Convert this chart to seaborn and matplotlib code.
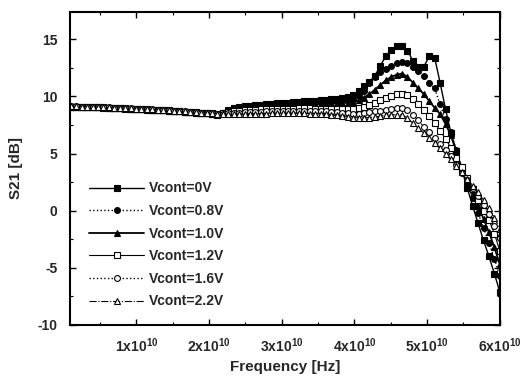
import numpy as np
import pandas as pd
import matplotlib
matplotlib.use("Agg")
import matplotlib.pyplot as plt
from matplotlib.ticker import MultipleLocator, FuncFormatter
import seaborn as sns

# Frequency samples (GHz)
freq_ghz = np.linspace(1.0, 60.0, 80)

s21_v0 = [9.10, 9.10, 9.08, 9.07, 9.05, 9.04, 9.02, 9.00, 8.98, 8.96,
          8.94, 8.92, 8.90, 8.88, 8.85, 8.83, 8.80, 8.78, 8.75, 8.72,
          8.68, 8.65, 8.62, 8.58, 8.55, 8.52, 8.48, 8.40, 8.55, 8.80,
          8.95, 9.05, 9.12, 9.18, 9.23, 9.28, 9.32, 9.36, 9.40, 9.43,
          9.46, 9.50, 9.53, 9.56, 9.60, 9.63, 9.66, 9.70, 9.73, 9.77,
          9.85, 9.95, 10.1, 10.5, 10.9, 11.3, 11.8, 12.7, 13.5, 14.1,
          14.4, 14.4, 14.0, 13.1, 12.6, 12.6, 13.5, 13.4, 11.2, 8.9,
          6.8, 5.2, 3.6, 2.0, 0.4, -1.1, -2.6, -4.0, -5.5, -7.1]

s21_v08 = [9.10, 9.10, 9.08, 9.07, 9.05, 9.04, 9.02, 9.00, 8.98, 8.96,
           8.94, 8.92, 8.90, 8.88, 8.85, 8.83, 8.80, 8.78, 8.75, 8.72,
           8.68, 8.65, 8.62, 8.58, 8.55, 8.52, 8.49, 8.45, 8.55, 8.75,
           8.92, 9.00, 9.06, 9.11, 9.16, 9.20, 9.24, 9.27, 9.30, 9.33,
           9.36, 9.39, 9.42, 9.45, 9.48, 9.51, 9.54, 9.57, 9.60, 9.63,
           9.67, 9.72, 9.80, 10.0, 10.5, 11.2, 11.7, 12.1, 12.4, 12.7,
           12.95, 13.0, 12.9, 12.6, 12.2, 11.8, 11.2, 10.7, 9.3, 8.0,
           6.9, 5.3, 3.8, 2.4, 1.1, -0.2, -1.5, -2.8, -4.2, -5.7]

s21_v10 = [9.11, 9.11, 9.09, 9.08, 9.06, 9.05, 9.03, 9.01, 8.99, 8.97,
           8.95, 8.93, 8.91, 8.89, 8.86, 8.84, 8.81, 8.79, 8.76, 8.73,
           8.69, 8.66, 8.63, 8.59, 8.56, 8.53, 8.50, 8.46, 8.52, 8.68,
           8.85, 8.92, 8.98, 9.03, 9.07, 9.10, 9.13, 9.16, 9.18, 9.20,
           9.22, 9.24, 9.26, 9.28, 9.30, 9.32, 9.34, 9.36, 9.38, 9.40,
           9.42, 9.45, 9.50, 9.65, 9.90, 10.2, 10.6, 11.0, 11.4, 11.7,
           11.9, 12.0, 11.7, 11.2, 10.7, 10.2, 9.6, 9.0, 8.45, 7.6,
           6.6, 5.1, 3.75, 2.6, 1.5, 0.4, -0.7, -1.9, -3.2, -4.7]

s21_v12 = [9.11, 9.11, 9.10, 9.09, 9.07, 9.06, 9.04, 9.02, 9.00, 8.98,
           8.96, 8.94, 8.92, 8.90, 8.87, 8.85, 8.82, 8.80, 8.77, 8.74,
           8.70, 8.67, 8.64, 8.60, 8.57, 8.54, 8.51, 8.48, 8.52, 8.62,
           8.70, 8.74, 8.78, 8.81, 8.84, 8.86, 8.88, 8.90, 8.91, 8.92,
           8.93, 8.94, 8.95, 8.95, 8.95, 8.94, 8.93, 8.91, 8.89, 8.87,
           8.86, 8.86, 8.88, 8.95, 9.10, 9.28, 9.45, 9.65, 9.85, 10.05,
           10.2, 10.2, 10.1, 9.8, 9.3, 8.8, 8.3, 7.7, 7.0, 6.3,
           5.5, 4.6, 3.8, 2.9, 1.9, 0.95, 0.0, -0.8, -2.0, -3.5]

s21_v16 = [9.12, 9.12, 9.11, 9.10, 9.08, 9.07, 9.05, 9.03, 9.01, 8.99,
           8.97, 8.95, 8.93, 8.91, 8.88, 8.86, 8.83, 8.80, 8.77, 8.74,
           8.71, 8.68, 8.65, 8.62, 8.58, 8.55, 8.52, 8.49, 8.50, 8.53,
           8.55, 8.58, 8.61, 8.63, 8.65, 8.67, 8.68, 8.70, 8.71, 8.72,
           8.73, 8.74, 8.75, 8.75, 8.75, 8.74, 8.72, 8.70, 8.67, 8.63,
           8.58, 8.53, 8.50, 8.50, 8.53, 8.60, 8.68, 8.76, 8.84, 8.92,
           8.97, 8.97, 8.80, 8.40, 7.90, 7.35, 6.85, 6.35, 5.85, 5.35,
           4.8, 4.0, 3.3, 2.7, 2.0, 1.3, 0.5, -0.3, -1.3, -2.4]

s21_v22 = [9.12, 9.12, 9.11, 9.10, 9.08, 9.07, 9.05, 9.03, 9.01, 8.99,
           8.97, 8.95, 8.93, 8.91, 8.88, 8.86, 8.83, 8.80, 8.77, 8.74,
           8.71, 8.68, 8.65, 8.62, 8.58, 8.55, 8.52, 8.48, 8.45, 8.45,
           8.45, 8.46, 8.47, 8.48, 8.49, 8.50, 8.50, 8.51, 8.51, 8.52,
           8.52, 8.52, 8.52, 8.51, 8.50, 8.48, 8.45, 8.42, 8.38, 8.33,
           8.27, 8.20, 8.15, 8.12, 8.12, 8.15, 8.20, 8.27, 8.33, 8.38,
           8.40, 8.38, 8.10, 7.65, 7.20, 6.80, 6.35, 5.90, 5.45, 5.00,
           4.5, 3.9, 3.35, 2.8, 2.2, 1.6, 0.95, 0.25, -0.6, -1.6]

labels = ["Vcont=0V", "Vcont=0.8V", "Vcont=1.0V", "Vcont=1.2V", "Vcont=1.6V", "Vcont=2.2V"]
series = [s21_v0, s21_v08, s21_v10, s21_v12, s21_v16, s21_v22]
x_tick_vals = [1, 2, 3, 4, 5, 6]

styles = [
    dict(marker="s", mfc="black", ls="-", lw=1.0),
    dict(marker="o", mfc="black", ls=":", lw=1.0),
    dict(marker="^", mfc="black", ls="-", lw=1.3),
    dict(marker="s", mfc="white", ls="-", lw=0.8),
    dict(marker="o", mfc="white", ls=":", lw=1.0),
    dict(marker="^", mfc="white", ls="-.", lw=0.8),
]

sns.set_theme(style="ticks")
plt.rcParams["font.family"] = ["Liberation Sans", "DejaVu Sans"]
plt.rcParams["font.weight"] = "bold"
plt.rcParams["mathtext.default"] = "regular"

fig = plt.figure(figsize=(5.25, 3.81), dpi=100)
ax = fig.add_axes([0.133, 0.147, 0.819, 0.822])

freq_hz = freq_ghz * 1e9
for lab, vals, st in zip(labels, series, styles):
    sns.lineplot(x=freq_hz, y=vals, ax=ax, color="black", label=lab,
                 marker=st["marker"], markerfacecolor=st["mfc"],
                 markeredgecolor="black", markeredgewidth=0.8,
                 markersize=4.2, linestyle=st["ls"], linewidth=st["lw"],
                 estimator=None, sort=False)

ax.set_xlim(0.86e9, 6.0e10)
ax.set_ylim(-10, 17.4)
ax.set_xticks([v * 1e10 for v in x_tick_vals])
ax.xaxis.set_minor_locator(MultipleLocator(0.5e10))
ax.yaxis.set_major_locator(MultipleLocator(5))
ax.yaxis.set_minor_locator(MultipleLocator(2.5))
ax.xaxis.set_major_formatter(FuncFormatter(lambda v, p: f"{int(round(v / 1e10))}x10$^{{10}}$"))
ax.yaxis.set_major_formatter(FuncFormatter(lambda v, p: f"{int(v)}"))

ax.tick_params(which="both", direction="in", top=True, right=True, color="black")
ax.tick_params(which="major", length=4, width=1.0, labelsize=10)
ax.tick_params(axis="x", which="major", pad=8)
ax.tick_params(axis="y", which="major", pad=9)
ax.tick_params(which="minor", length=2.5, width=0.8)
for lbl in ax.get_xticklabels() + ax.get_yticklabels():
    lbl.set_fontweight("bold")
for sp in ax.spines.values():
    sp.set_linewidth(1.5)
    sp.set_color("black")

ax.set_xlabel("Frequency [Hz]", fontsize=11, fontweight="bold", labelpad=4)
ax.set_ylabel("S21 [dB]", fontsize=11, fontweight="bold", labelpad=10)

leg = ax.legend(loc="upper left", bbox_to_anchor=(0.025, 0.485), frameon=False,
                handlelength=4.0, handletextpad=0.3, labelspacing=0.62,
                prop=dict(size=10, weight="bold"), borderaxespad=0.2)

fig.savefig("out.png", dpi=100)
